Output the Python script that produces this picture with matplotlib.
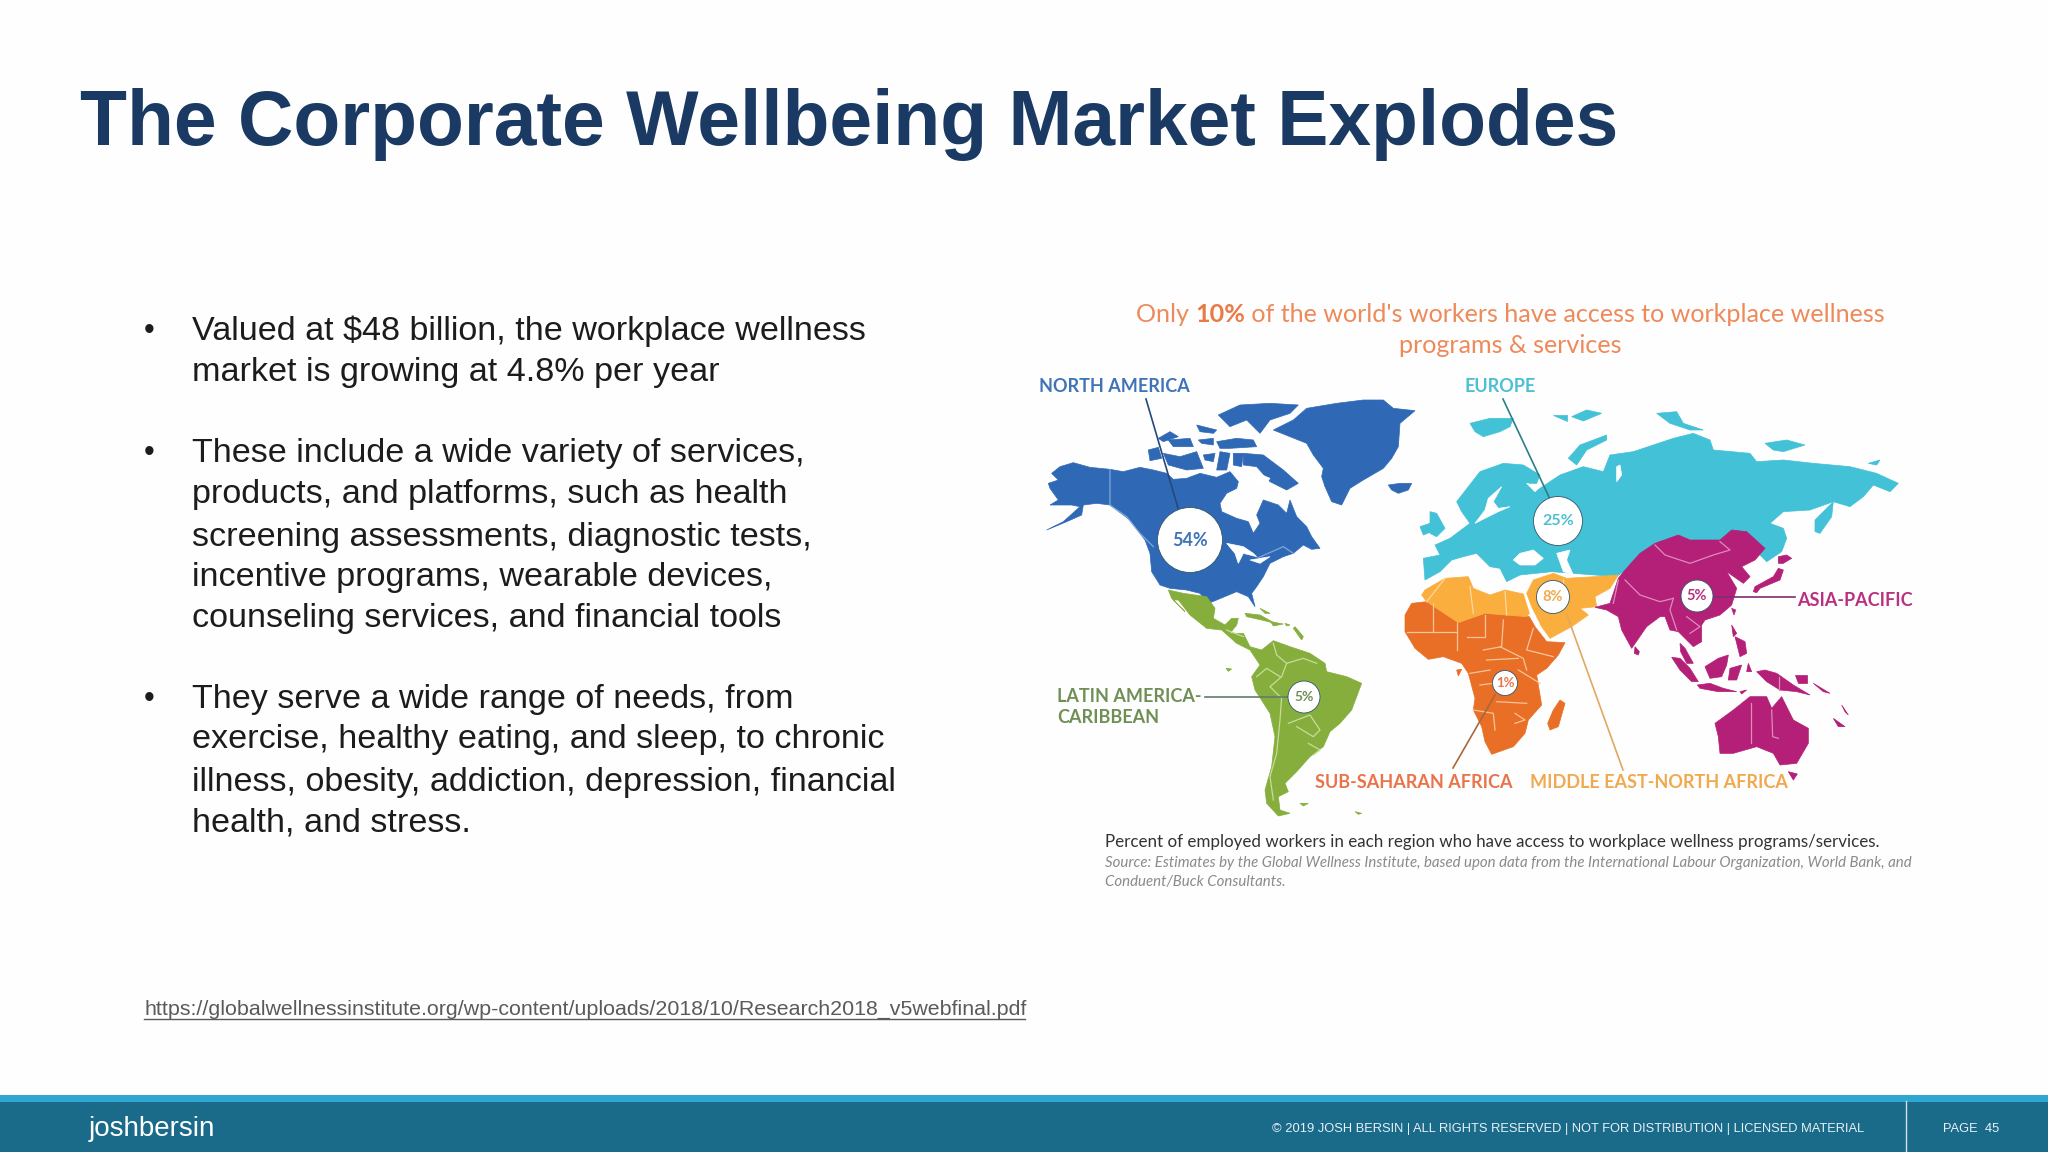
import matplotlib
matplotlib.use('Agg')
import matplotlib.pyplot as plt
from matplotlib.patches import Polygon

# slide text
title = "The Corporate Wellbeing Market Explodes"
bullet_lines = [
    "Valued at $48 billion, the workplace wellness",
    "market is growing at 4.8% per year",
    "These include a wide variety of services,",
    "products, and platforms, such as health",
    "screening assessments, diagnostic tests,",
    "incentive programs, wearable devices,",
    "counseling services, and financial tools",
    "They serve a wide range of needs, from",
    "exercise, healthy eating, and sleep, to chronic",
    "illness, obesity, addiction, depression, financial",
    "health, and stress.",
]
bullet_y = [331.5, 372.5, 453.5, 494.5, 537.5, 577.5, 618.5, 699.5, 739.5, 782.5, 822.5]
bullet_marks_y = [331, 453, 699]
url = "https://globalwellnessinstitute.org/wp-content/uploads/2018/10/Research2018_v5webfinal.pdf"
footer = "© 2019 JOSH BERSIN | ALL RIGHTS RESERVED | NOT FOR DISTRIBUTION | LICENSED MATERIAL"

# map data, one entry per region
regions = ["NORTH AMERICA", "EUROPE", "MIDDLE EAST-NORTH AFRICA", "ASIA-PACIFIC",
           "LATIN AMERICA-\nCARIBBEAN", "SUB-SAHARAN AFRICA"]
access_pct = [54, 25, 8, 5, 5, 1]
region_colors = ["#2f69b5", "#42c1d7", "#f9ae3d", "#b41f77", "#86ae3c", "#e86f25"]
border_colors = ["#7fa6d8", "#8fdcea", "#fdd9a3", "#dc8cbc", "#c8dc9a", "#f7c49c"]
label_colors = ["#3f74b8", "#4bbfd3", "#f0a94e", "#b8307f", "#6f8f55", "#e9744a"]
bubble_x = [1190, 1558, 1553, 1697, 1304, 1505]
bubble_y = [540, 521, 597, 596, 697, 683]
bubble_size = [2190, 1245, 565, 530, 530, 325]
pct_size = [13, 11.5, 10.5, 10.5, 10, 9.5]
label_x = [1039, 1464, 1530, 1797, 1057, 1315]
label_y = [386, 386, 782, 600, 707, 782]
leader_x = [(1146, 1178), (1503, 1549), (1567, 1623), (1712, 1795), (1205, 1288), (1495, 1453)]
leader_y = [(399, 508), (399, 497), (615, 770), (597, 597), (697, 697), (695, 768)]
leader_colors = ["#24497c", "#2b7f86", "#e0a860", "#7e2d70", "#5f7f6a", "#a9683c"]

na_crop = (1030, 390)
north_america = [
    [(50, 420), (100, 395), (150, 350), (125, 345), (60, 345), (85, 330), (60, 295), (55, 280), (85, 270),
     (65, 250), (90, 230), (130, 218), (180, 232), (240, 238), (280, 245), (330, 232), (370, 240), (410, 250),
     (430, 268), (470, 265), (510, 250), (560, 262), (600, 245), (625, 275), (620, 295), (590, 310), (570, 340),
     (575, 365), (620, 385), (655, 395), (670, 430), (690, 400), (680, 375), (700, 330), (745, 345), (770, 370),
     (780, 330), (800, 380), (830, 410), (845, 440), (870, 475), (845, 478), (820, 465), (790, 490), (760, 500),
     (720, 520), (700, 560), (680, 590), (665, 610), (675, 650), (655, 620), (620, 605), (560, 630), (535, 640),
     (510, 610), (470, 600), (420, 595), (390, 585), (365, 545), (360, 490), (345, 450), (300, 390), (240, 345),
     (200, 340), (160, 345), (155, 375), (110, 395)],
    [(730, 120), (790, 90), (830, 55), (920, 40), (1000, 30), (1060, 30), (1090, 55), (1155, 62), (1110, 100),
     (1105, 170), (1085, 205), (1060, 235), (1000, 270), (960, 295), (935, 345), (905, 335), (885, 290),
     (875, 260), (880, 235), (850, 195), (830, 160), (780, 140)],
    [(1075, 285), (1110, 280), (1145, 280), (1135, 300), (1105, 310), (1085, 300)],
    [(565, 75), (630, 45), (720, 40), (805, 45), (780, 70), (720, 90), (690, 130), (650, 90), (600, 110)],
    [(640, 190), (700, 195), (760, 240), (805, 280), (770, 300), (720, 275), (680, 230), (640, 225)],
    [(355, 180), (385, 172), (395, 205), (360, 212)],
    [(400, 190), (450, 200), (500, 185), (520, 235), (470, 240), (415, 225)],
    [(385, 145), (420, 125), (445, 140), (400, 155)],
    [(415, 150), (480, 145), (490, 170), (430, 170)],
    [(500, 105), (560, 120), (550, 130), (510, 125)],
    [(505, 150), (550, 145), (550, 165), (515, 160)],
    [(560, 155), (620, 145), (670, 150), (680, 170), (600, 175), (570, 175)],
    [(520, 195), (555, 190), (550, 215), (525, 210)],
    [(570, 185), (600, 190), (590, 240), (560, 240)],
    [(610, 190), (640, 190), (635, 230), (610, 225)],
]
na_water = [
    [(590, 460), (640, 470), (670, 490), (680, 500), (640, 490), (625, 520), (615, 490)],
    [(660, 510), (720, 500), (690, 520)],
    [(660, 240), (720, 265), (700, 290), (660, 280)],
]
na_borders = [
    [(240, 240), (240, 345), (290, 380), (330, 430), (370, 470)],
    [(680, 505), (760, 470), (790, 490)],
]

la_crop = (1150, 580)
latin_america = [
    [(55, 30), (100, 40), (170, 50), (195, 85), (190, 115), (225, 135), (245, 115), (265, 115), (260, 135),
     (240, 160), (280, 160), (300, 200), (335, 210), (370, 182), (420, 200), (480, 220), (525, 250), (530, 275),
     (590, 290), (635, 310), (605, 390), (570, 430), (540, 455), (520, 500), (480, 530), (440, 575), (405, 610),
     (415, 635), (385, 650), (390, 690), (420, 700), (385, 708), (350, 670), (345, 630), (365, 560), (375, 470),
     (360, 400), (315, 330), (305, 290), (330, 255), (300, 210), (260, 190), (215, 150), (170, 145), (120, 105),
     (85, 60), (70, 60), (105, 95), (65, 55)],
    [(285, 100), (330, 105), (375, 130), (335, 120), (290, 110)],
    [(362, 125), (400, 132), (370, 138)],
    [(405, 130), (420, 135), (410, 138)],
    [(435, 140), (460, 170), (455, 180), (430, 145)],
    [(228, 265), (245, 267), (235, 274)],
    [(450, 670), (475, 670), (460, 678)],
    [(615, 695), (635, 700), (625, 703)],
    [(330, 85), (360, 100), (345, 100)],
]
la_borders = [
    [(370, 190), (380, 225), (410, 250), (395, 290), (360, 320), (390, 350)],
    [(320, 290), (350, 265), (390, 290)],
    [(395, 350), (390, 420), (380, 520), (360, 590), (370, 660)],
    [(415, 430), (480, 405), (510, 450), (490, 470), (440, 440)],
    [(475, 490), (510, 510), (490, 525)],
    [(230, 150), (280, 170)],
    [(410, 250), (460, 235), (500, 250)],
]

eu_crop = (1420, 395)
europe = [
    [(15, 555), (10, 490), (60, 480), (45, 450), (90, 430), (130, 400), (150, 385), (125, 350), (110, 320),
     (180, 230), (250, 205), (310, 210), (360, 240), (350, 265), (320, 265), (345, 290), (375, 270), (420, 240),
     (490, 215), (550, 230), (570, 180), (640, 170), (700, 150), (760, 130), (820, 115), (870, 135), (880, 165),
     (990, 175), (1010, 200), (1090, 195), (1180, 205), (1290, 215), (1370, 235), (1435, 265), (1410, 290),
     (1360, 270), (1330, 305), (1290, 335), (1240, 320), (1170, 345), (1090, 350), (1050, 385), (1090, 400),
     (1100, 430), (1085, 470), (1040, 500), (1020, 480), (700, 500), (610, 530), (590, 545), (395, 530),
     (300, 540), (260, 560), (240, 520), (210, 515), (170, 475), (130, 485), (95, 495), (60, 530)],
    [(30, 350), (50, 355), (75, 400), (50, 425), (30, 415)],
    [(0, 395), (30, 385), (35, 410), (10, 420)],
    [(150, 85), (210, 70), (280, 70), (270, 95), (240, 110), (190, 125), (165, 110)],
    [(400, 60), (440, 60), (440, 78)],
    [(455, 65), (500, 45), (545, 55), (490, 78)],
    [(445, 190), (480, 150), (560, 120), (560, 135), (500, 165), (470, 210)],
    [(710, 55), (770, 50), (790, 85), (850, 105), (810, 105), (750, 85)],
    [(1035, 145), (1100, 135), (1155, 150), (1090, 170), (1060, 165)],
    [(1345, 205), (1380, 195), (1370, 210)],
    [(1185, 375), (1240, 320), (1235, 365), (1200, 415), (1185, 410)],
]
eu_water = [
    [(245, 275), (205, 310), (195, 345), (165, 385), (235, 350), (270, 335), (235, 340), (220, 320)],
    [(280, 495), (300, 475), (340, 465), (370, 490), (345, 510), (300, 510)],
    [(410, 475), (450, 465), (440, 495), (460, 540), (430, 530)],
    [(590, 215), (600, 210), (605, 240), (590, 260)],
    [(320, 265), (345, 290), (370, 265), (345, 272)],
]

af_crop = (1390, 570)
mena = [
    [(95, 75), (105, 60), (165, 25), (235, 20), (250, 55), (300, 75), (345, 60), (400, 72), (418, 130), (410, 140),
     (285, 130), (205, 158), (110, 95)],
    [(410, 70), (430, 30), (490, 10), (530, 25), (615, 20), (685, 15), (660, 55), (615, 80), (620, 110), (570, 115),
     (595, 135), (545, 170), (480, 205), (455, 170), (425, 110)],
]
mena_borders = [
    [(165, 25), (110, 95)],
    [(240, 50), (250, 130)],
    [(345, 65), (350, 135)],
    [(520, 30), (530, 110)],
]
sub_saharan = [
    [(45, 135), (65, 100), (110, 95), (205, 158), (285, 130), (418, 140), (435, 170), (470, 215), (525, 218),
     (505, 255), (470, 295), (440, 315), (445, 345), (455, 405), (415, 450), (405, 490), (370, 530), (305, 553),
     (285, 515), (275, 470), (250, 420), (255, 385), (235, 310), (215, 280), (160, 260), (115, 268), (75, 235),
     (45, 185)],
    [(510, 390), (525, 400), (505, 470), (480, 480), (473, 460), (490, 420)],
    [(200, 300), (215, 298), (205, 318)],
]
ssa_borders = [
    [(50, 185), (130, 185)],
    [(130, 100), (130, 185), (200, 185)],
    [(200, 158), (200, 240)],
    [(285, 135), (285, 200), (230, 200)],
    [(340, 150), (335, 230), (280, 240)],
    [(430, 175), (410, 240), (490, 260)],
    [(330, 230), (400, 265), (410, 300)],
    [(290, 270), (385, 265)],
    [(240, 310), (300, 300)],
    [(270, 345), (310, 340)],
    [(385, 300), (450, 340)],
    [(250, 420), (310, 430), (315, 480)],
    [(320, 395), (410, 400)],
    [(375, 430), (405, 450), (375, 460)],
]

ap_crop = (1590, 520)
asia_pacific = [
    [(15, 262), (60, 250), (85, 175), (105, 150), (150, 100), (195, 70), (265, 45), (300, 60), (390, 60), (425, 30),
     (470, 35), (525, 85), (495, 120), (455, 140), (480, 170), (460, 190), (410, 155), (440, 205), (425, 255),
     (390, 285), (345, 300), (335, 315), (335, 365), (310, 380), (285, 355), (265, 335), (240, 330), (225, 290),
     (210, 290), (170, 320), (125, 385), (95, 330), (85, 290), (50, 270)],
    [(135, 380), (148, 395), (145, 405), (133, 400)],
    [(270, 370), (285, 385), (310, 430), (290, 430), (272, 395)],
    [(245, 412), (270, 415), (300, 445), (325, 485), (305, 485), (270, 450)],
    [(322, 495), (360, 490), (400, 505), (440, 515), (385, 515), (330, 505)],
    [(345, 440), (385, 415), (415, 405), (410, 435), (395, 470), (360, 475)],
    [(420, 445), (455, 435), (440, 480), (415, 480)],
    [(425, 265), (437, 270), (432, 285)],
    [(425, 315), (440, 340), (430, 350)],
    [(435, 350), (465, 365), (470, 400), (450, 410)],
    [(500, 455), (525, 450), (560, 460), (610, 495), (660, 525), (620, 515), (570, 510), (530, 485)],
    [(475, 430), (485, 455), (470, 455)],
    [(450, 515), (470, 510), (455, 522)],
    [(615, 465), (650, 465), (650, 490), (625, 490)],
    [(670, 490), (720, 520), (700, 515)],
    [(755, 555), (775, 585), (765, 575)],
    [(730, 595), (765, 620), (745, 620)],
    [(490, 215), (495, 200), (550, 170), (565, 145), (580, 150), (570, 180), (510, 205), (500, 218)],
    [(565, 110), (590, 105), (605, 115), (580, 130), (565, 130)],
    [(375, 610), (430, 570), (480, 530), (530, 530), (545, 565), (575, 530), (610, 600), (655, 625), (655, 670),
     (620, 730), (570, 735), (550, 700), (500, 680), (430, 700), (390, 700), (385, 650)],
    [(595, 755), (622, 762), (610, 780)],
]
ap_borders = [
    [(195, 75), (225, 105), (300, 130), (370, 105), (420, 90), (390, 65)],
    [(105, 180), (150, 225), (210, 245), (250, 235)],
    [(85, 180), (70, 250)],
    [(250, 235), (240, 270), (260, 330)],
    [(290, 290), (330, 320), (300, 340)],
    [(483, 550), (483, 670)],
    [(545, 570), (548, 650), (565, 655)],
    [(568, 470), (568, 510)],
]


def to_px(points, crop):
    # crop pixels to slide pixels
    return [(crop[0] + x / 3, crop[1] + y / 3) for x, y in points]


fig = plt.figure(figsize=(20.48, 11.52), dpi=100)
fig.patch.set_facecolor('#fefefe')

# whole slide in pixels
ax = fig.add_axes([0, 0, 1, 1])
ax.set_xlim(0, 2048)
ax.set_ylim(1152, 0)
ax.axis('off')
sans = ['Liberation Sans', 'DejaVu Sans']
map_font = ['Lato', 'DejaVu Sans']

ax.text(80, 124.5, title, family=sans, weight='bold', fontsize=55.3, color='#1a3a63', va='center')

for line, y in zip(bullet_lines, bullet_y):
    ax.text(192, y, line, family=sans, fontsize=24.6, color='#1c1c1c', va='center')
for y in bullet_marks_y:
    ax.text(144, y, "•", family=sans, fontsize=22, color='#1c1c1c', va='center')

ax.text(144, 1009, url, family=sans, fontsize=15.4, color='#5a5a5a', va='center')
ax.plot([144, 1025], [1019, 1019], color='#5a5a5a', lw=1)

# footer
ax.fill_between([0, 2048], 1095, 1102, color='#2ea8d3', lw=0)
ax.fill_between([0, 2048], 1102, 1152, color='#1a6a8a', lw=0)
ax.plot([1906, 1906], [1101, 1152], color='#d0e0e8', lw=1)
ax.text(89, 1129, "joshbersin", family=sans, fontsize=20, color='white', va='center')
ax.text(1272, 1129, footer, family=sans, fontsize=9.32, color='#e8f0f4', va='center')
ax.text(1943, 1129, "PAGE  45", family=sans, fontsize=9.32, color='#e8f0f4', va='center')

# map, cyan first so that the regions below it sit on top
layers = [
    (europe, eu_crop, region_colors[1]),
    (north_america, na_crop, region_colors[0]),
    (latin_america, la_crop, region_colors[4]),
    (sub_saharan, af_crop, region_colors[5]),
    (mena, af_crop, region_colors[2]),
    (asia_pacific, ap_crop, region_colors[3]),
]
for shapes, crop, color in layers:
    for shape in shapes:
        ax.add_patch(Polygon(to_px(shape, crop), closed=True, facecolor=color, edgecolor=color, lw=0.5))

for shapes, crop in [(eu_water, eu_crop), (na_water, na_crop)]:
    for shape in shapes:
        ax.add_patch(Polygon(to_px(shape, crop), closed=True, facecolor='white', edgecolor='white', lw=0.5, zorder=1.5))

border_sets = [
    (na_borders, na_crop, border_colors[0]),
    (mena_borders, af_crop, border_colors[2]),
    (ap_borders, ap_crop, border_colors[3]),
    (la_borders, la_crop, border_colors[4]),
    (ssa_borders, af_crop, border_colors[5]),
]
for lines, crop, color in border_sets:
    for line in lines:
        pts = to_px(line, crop)
        ax.plot([p[0] for p in pts], [p[1] for p in pts], color=color, lw=0.9, zorder=2)

for lx, ly, c in zip(leader_x, leader_y, leader_colors):
    ax.plot(lx, ly, color=c, lw=1.2, zorder=3)

ax.scatter(bubble_x, bubble_y, s=bubble_size, color='white', edgecolor='#33556b', linewidth=0.6, zorder=4)
for i, pct in enumerate(access_pct):
    ax.text(bubble_x[i], bubble_y[i], f"{pct}%", family=map_font, weight='bold', fontsize=pct_size[i],
            color=label_colors[i], ha='center', va='center', zorder=5)
    ax.text(label_x[i], label_y[i], regions[i], family=map_font, weight='bold', fontsize=13,
            color=label_colors[i], va='center', linespacing=1.25, zorder=5)

# headline with one bold figure
head_color = '#ee8a5a'
t = ax.text(1136, 314, "Only ", family=map_font, fontsize=18.05, color=head_color, va='center')
t = ax.annotate("10%", xy=(1, 0.5), xycoords=t, va='center', family=map_font, weight='bold',
                fontsize=18.05, color='#ea7a45')
ax.annotate(" of the world's workers have access to workplace wellness", xy=(1, 0.5), xycoords=t,
            va='center', family=map_font, fontsize=18.05, color=head_color)
ax.text(1510, 345.5, "programs & services", family=map_font, fontsize=18.05, color=head_color, ha='center', va='center')

ax.text(1105, 842, "Percent of employed workers in each region who have access to workplace wellness programs/services.",
        family=map_font, fontsize=12.22, color='#333333', va='center')
ax.text(1105, 863, "Source: Estimates by the Global Wellness Institute, based upon data from the International Labour Organization, World Bank, and",
        family=map_font, fontsize=10.8, style='italic', color='#8a8a8a', va='center')
ax.text(1105, 882, "Conduent/Buck Consultants.", family=map_font, fontsize=10.8, style='italic', color='#8a8a8a', va='center')

fig.savefig('out.png', dpi=100)
